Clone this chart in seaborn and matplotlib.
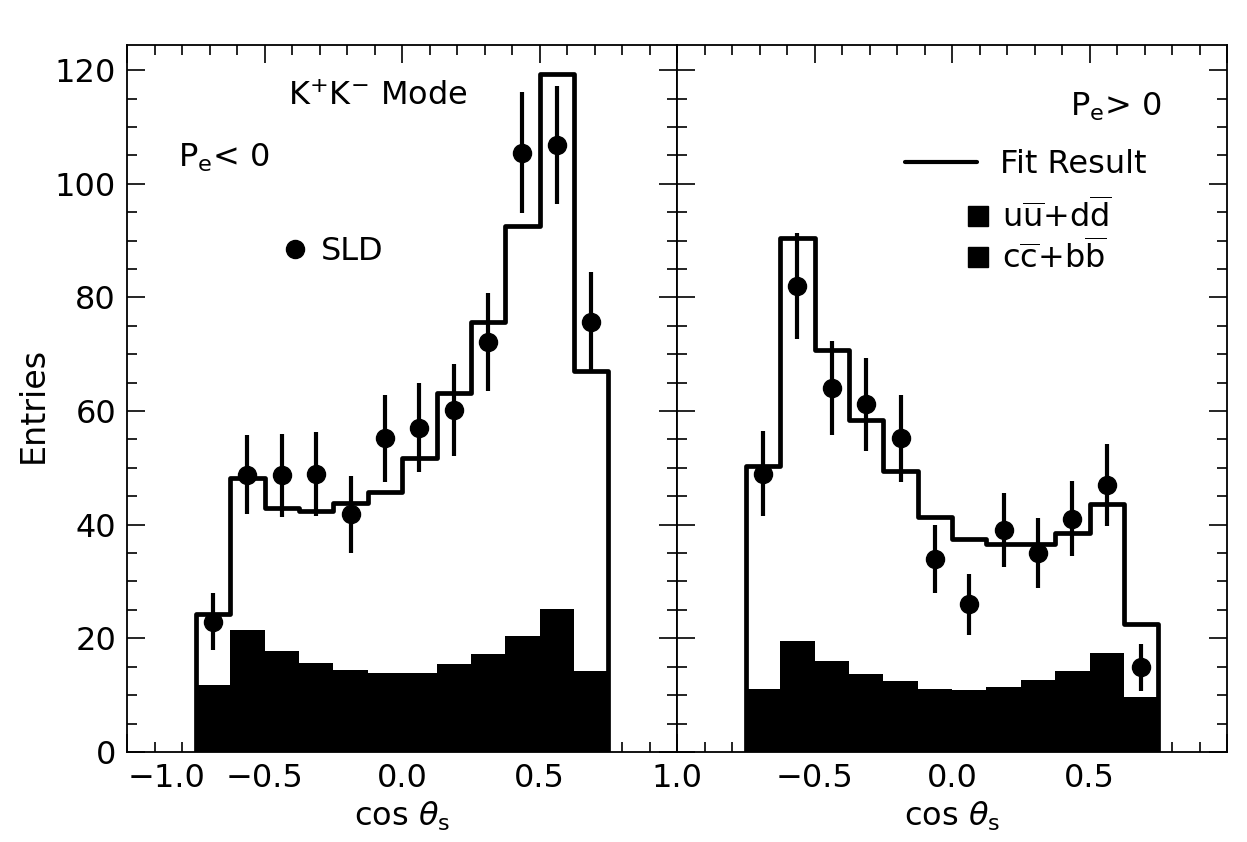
import numpy as np
import matplotlib
matplotlib.use('Agg')
import matplotlib.pyplot as plt
from matplotlib.lines import Line2D
from matplotlib.ticker import MultipleLocator, FixedLocator, FixedFormatter
import seaborn as sns

# bins in cos(theta_s)
bin_edges = [-0.75, -0.625, -0.5, -0.375, -0.25, -0.125, 0.0,
             0.125, 0.25, 0.375, 0.5, 0.625, 0.75]

# P_e < 0 (left panel)
neg_fit = [24.2, 48.3, 42.9, 42.4, 43.9, 45.8, 51.8, 63.1, 75.7, 92.6, 119.3, 67.0]
neg_bkg = [11.8, 21.5, 17.7, 15.7, 14.5, 13.9, 13.9, 15.4, 17.3, 20.4, 25.2, 14.3]
neg_data = [22.9, 48.8, 48.7, 48.9, 41.8, 55.2, 57.1, 60.2, 72.2, 105.5, 106.8, 75.7]
neg_err = [5.0, 7.0, 7.3, 7.4, 6.7, 7.7, 7.9, 8.1, 8.6, 10.7, 10.4, 8.7]

# P_e > 0 (right panel)
pos_fit = [50.4, 90.5, 70.7, 58.4, 49.4, 41.3, 37.4, 36.6, 36.6, 38.5, 43.7, 22.5]
pos_bkg = [11.0, 19.5, 16.0, 13.8, 12.5, 11.0, 10.9, 11.5, 12.7, 14.2, 17.4, 9.6]
pos_data = [49.0, 82.0, 64.0, 61.2, 55.2, 33.9, 26.0, 39.1, 35.0, 41.0, 47.0, 14.9]
pos_err = [7.4, 9.3, 8.3, 8.2, 7.7, 6.0, 5.4, 6.5, 6.1, 6.6, 7.2, 4.1]

x_ticks = [-1.0, -0.5, 0.0, 0.5, 1.0]
left_tick_labels = ['\u22121.0', '\u22120.5', '0.0', '0.5', '1.0']
right_tick_labels = ['', '\u22120.5', '0.0', '0.5', '']
y_ticks = [0, 20, 40, 60, 80, 100, 120]

centers = 0.5 * (np.array(bin_edges[:-1]) + np.array(bin_edges[1:]))

sns.set_style('ticks')
plt.rcParams['font.family'] = ['DejaVu Sans']
plt.rcParams['mathtext.fontset'] = 'dejavusans'
for k in ['text.color', 'axes.labelcolor', 'xtick.color', 'ytick.color',
          'axes.edgecolor']:
    plt.rcParams[k] = 'black'
FS = 23

fig = plt.figure(figsize=(12.47, 8.42), dpi=100)
ax_l = fig.add_axes([0.102, 0.107, 0.441, 0.840])
ax_r = fig.add_axes([0.543, 0.107, 0.441, 0.840])


def draw_panel(ax, fit, bkg, data, err):
    # background (quark flavour) component, filled black
    sns.histplot(x=centers, weights=bkg, bins=bin_edges, element='step',
                 fill=True, color='black', alpha=1, linewidth=0, ax=ax)
    # fit result outline
    sns.histplot(x=centers, weights=fit, bins=bin_edges, element='step',
                 fill=True, color='black', facecolor='none', edgecolor='black',
                 linewidth=3.4, ax=ax)
    ax.errorbar(centers, data, yerr=err, fmt='o', color='black', ms=13,
                elinewidth=3, capsize=0, zorder=5)
    ax.set_xlim(-1.0, 1.0)
    ax.set_ylim(0, 124.5)
    ax.xaxis.set_major_locator(FixedLocator(x_ticks))
    ax.xaxis.set_minor_locator(MultipleLocator(0.1))
    ax.yaxis.set_major_locator(FixedLocator(y_ticks))
    ax.yaxis.set_minor_locator(MultipleLocator(5))
    ax.tick_params(which='both', direction='in', top=True, right=True,
                   width=1.2, labelsize=FS)
    ax.tick_params(which='major', length=13, pad=8)
    ax.tick_params(which='minor', length=7)
    for s in ax.spines.values():
        s.set_linewidth(1.3)
        s.set_visible(True)
    ax.set_xlabel(r'cos $\theta_{\rm s}$', fontsize=FS, labelpad=4)


draw_panel(ax_l, neg_fit, neg_bkg, neg_data, neg_err)
draw_panel(ax_r, pos_fit, pos_bkg, pos_data, pos_err)

ax_l.xaxis.set_major_formatter(FixedFormatter(left_tick_labels))
ax_r.xaxis.set_major_formatter(FixedFormatter(right_tick_labels))
ax_l.set_yticklabels([str(v) for v in y_ticks])
ax_r.set_yticklabels([])
# first x label sits just right of the "0" as in the original
fig.canvas.draw()
ax_l.get_xticklabels()[0].set_horizontalalignment('left')
ax_l.set_ylabel('Entries', fontsize=24)
ax_l.yaxis.set_label_coords(-0.14, 0.49)
ax_r.set_ylabel('')

# left panel annotations
ax_l.text(-0.415, 115.3, r'K$^{+}$K$^{-}$ Mode', fontsize=FS, va='center')
ax_l.text(-0.816, 103, r'P$_{\rm e}$< 0', fontsize=FS, va='baseline')
sld = Line2D([], [], marker='o', ls='', color='black', ms=13)
ax_l.legend([sld], ['SLD'], loc='center left', bbox_to_anchor=(0.276, 0.707),
            frameon=False, fontsize=FS, handlelength=1.0, handletextpad=0.3,
            borderpad=0, borderaxespad=0)

# right panel annotations
ax_r.text(0.43, 112, r'P$_{\rm e}$> 0', fontsize=FS, va='baseline')
fit_handle = Line2D([], [], color='black', lw=3)
leg1 = ax_r.legend([fit_handle], ['Fit Result'], loc='center left',
                   bbox_to_anchor=(0.415, 0.830), frameon=False, fontsize=FS,
                   handlelength=2.25, handletextpad=0.7, borderpad=0,
                   borderaxespad=0)
ax_r.add_artist(leg1)
sq1 = Line2D([], [], marker='s', ls='', color='black', ms=15)
sq2 = Line2D([], [], marker='s', ls='', color='black', ms=15)
ax_r.legend([sq1, sq2],
            [r'u$\overline{\rm u}$+d$\overline{\rm d}$',
             r'c$\overline{\rm c}$+b$\overline{\rm b}$'],
            loc='center left', bbox_to_anchor=(0.518, 0.728), frameon=False,
            fontsize=FS, handlelength=1.0, handletextpad=0.25,
            labelspacing=0.15, borderpad=0, borderaxespad=0)

fig.savefig('out.png', dpi=100)
plt.close(fig)
